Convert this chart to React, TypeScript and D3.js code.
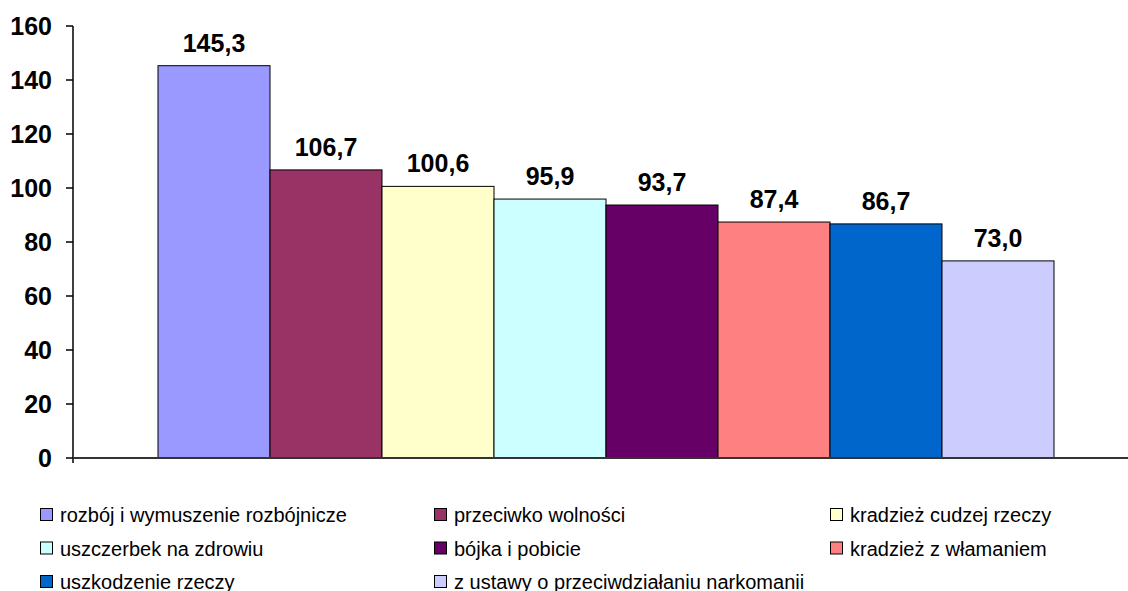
import React from "react";
import { scaleBand, scaleLinear } from "d3";

const width = 1128, height = 591

const categories = [
  "rozbój i wymuszenie rozbójnicze",
  "przeciwko wolności",
  "kradzież cudzej rzeczy",
  "uszczerbek na zdrowiu",
  "bójka i pobicie",
  "kradzież z włamaniem",
  "uszkodzenie rzeczy",
  "z ustawy o przeciwdziałaniu narkomanii",
]
const values = [145.3, 106.7, 100.6, 95.9, 93.7, 87.4, 86.7, 73.0]
const colors = ["#9999FF", "#993366", "#FFFFCC", "#CCFFFF", "#660066", "#FF8080", "#0066CC", "#CCCCFF"]
const yTicks = [0, 20, 40, 60, 80, 100, 120, 140, 160]

const axisX = 73, baseY = 458, topY = 26

const App = () => {
  const xScale = scaleBand()
    .domain(categories)
    .range([158, 1054])
    .padding(0)

  const yScale = scaleLinear()
    .domain([0, 160])
    .range([baseY, topY])

  const legendCols = [40, 434, 830]

  return <svg width={width} height={height}
    style={{ position: "absolute", left: 0, top: 0, fontFamily: "'Liberation Sans', Arial, sans-serif" }}>
    <rect x={0} y={0} width={width} height={height} fill="#fff" />
    {categories.map((c, i) => {
      const v = values[i]
      return <g key={c}>
        <rect
          x={xScale(c)}
          y={yScale(v)}
          width={xScale.bandwidth()}
          height={baseY - yScale(v)}
          fill={colors[i]}
          stroke="#000"
          strokeWidth={1}
        />
        <text
          x={xScale(c) + xScale.bandwidth() / 2}
          y={yScale(v) - 14}
          textAnchor="middle"
          fontSize={25}
          fontWeight="bold"
          fill="#000"
        >{v.toFixed(1).replace(".", ",")}</text>
      </g>
    })}
    {/* axes */}
    <line x1={axisX} x2={axisX} y1={topY} y2={baseY + 5} stroke="#000" strokeWidth={1.5} />
    <line x1={axisX} x2={width} y1={baseY} y2={baseY} stroke="#333" strokeWidth={2} />
    {yTicks.map(t => <g key={t}>
      <line x1={66} x2={axisX} y1={yScale(t)} y2={yScale(t)} stroke="#000" strokeWidth={1.5} />
      <text x={52} y={yScale(t) + 9} textAnchor="end" fontSize={25} fontWeight="bold">{t}</text>
    </g>)}
    {/* legend */}
    {categories.map((c, i) => {
      const col = i % 3, row = Math.floor(i / 3)
      const lx = legendCols[col], ly = 508 + row * 33.5
      return <g key={"lg" + c}>
        <rect x={lx + 0.5} y={ly + 0.5} width={12} height={12} fill={colors[i]} stroke="#000" strokeWidth={1} />
        <text x={lx + 20} y={ly + 14} fontSize={20} fill="#000">{c}</text>
      </g>
    })}
  </svg>
}

export default App;
